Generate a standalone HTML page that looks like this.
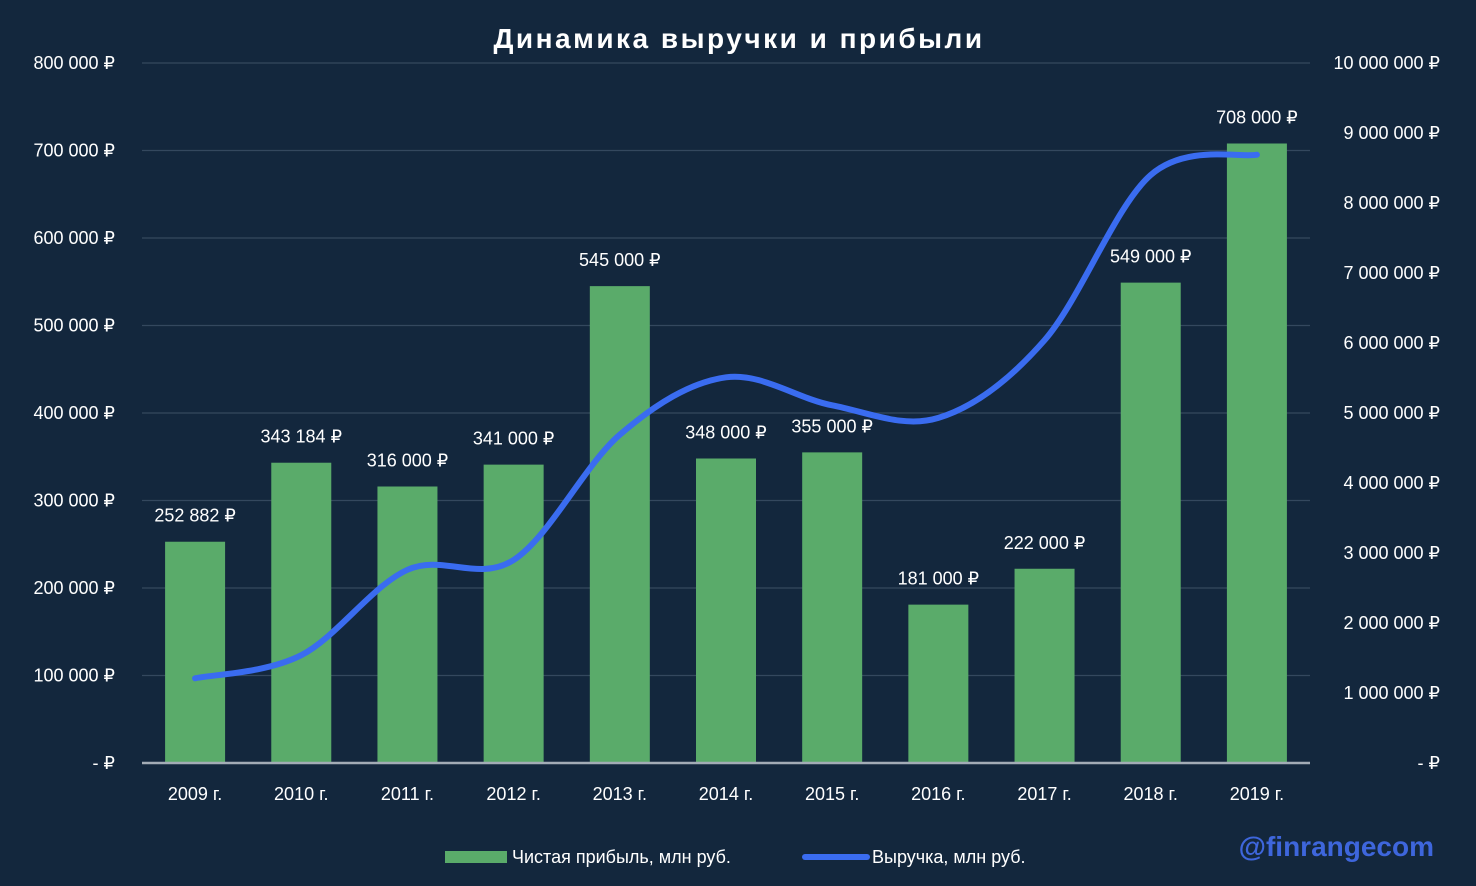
<!DOCTYPE html>
<html><head><meta charset="utf-8"><style>
body{margin:0;background:#13273d;}
svg{display:block;font-family:"Liberation Sans","DejaVu Sans",sans-serif;}
</style></head><body>
<svg id="c" width="1476" height="886" viewBox="0 0 1476 886">
<rect width="1476" height="886" fill="#13273d"/>
<text x="739" y="48" text-anchor="middle" fill="#fff" font-size="28" font-weight="bold" letter-spacing="2.5">Динамика выручки и прибыли</text>
<g id="grid"></g><g id="bars"></g><g id="line"></g><g id="labels"></g>
<g>
<rect x="445" y="851" width="62" height="12" fill="#5aab6a"/>
<text x="512" y="863" fill="#fff" font-size="18">Чистая прибыль, млн руб.</text>
<line x1="805" y1="857" x2="867" y2="857" stroke="#3a6cf0" stroke-width="6" stroke-linecap="round"/>
<text x="872" y="863" fill="#fff" font-size="18">Выручка, млн руб.</text>
</g>
<text x="1434" y="856" text-anchor="end" fill="#3e66dc" font-size="28" font-weight="bold">@finrangecom</text>
</svg>
<script>
const categories=["2009 г.","2010 г.","2011 г.","2012 г.","2013 г.","2014 г.","2015 г.","2016 г.","2017 г.","2018 г.","2019 г."];
const profit=[252882,343184,316000,341000,545000,348000,355000,181000,222000,549000,708000];
const profitLabels=["252 882 ₽","343 184 ₽","316 000 ₽","341 000 ₽","545 000 ₽","348 000 ₽","355 000 ₽","181 000 ₽","222 000 ₽","549 000 ₽","708 000 ₽"];
const revenue=[1210000,1540000,2760000,2900000,4690000,5510000,5110000,4930000,6040000,8400000,8690000];
const leftTicks=[0,100000,200000,300000,400000,500000,600000,700000,800000];
const leftTickLabels=["-   ₽","100 000 ₽","200 000 ₽","300 000 ₽","400 000 ₽","500 000 ₽","600 000 ₽","700 000 ₽","800 000 ₽"];
const rightTicks=[0,1e6,2e6,3e6,4e6,5e6,6e6,7e6,8e6,9e6,1e7];
const rightTickLabels=["-   ₽","1 000 000 ₽","2 000 000 ₽","3 000 000 ₽","4 000 000 ₽","5 000 000 ₽","6 000 000 ₽","7 000 000 ₽","8 000 000 ₽","9 000 000 ₽","10 000 000 ₽"];
const NS="http://www.w3.org/2000/svg";
const X0=142,X1=1310,Y0=763,Y1=63;
const step=(X1-X0)/categories.length;
const xc=i=>X0+step*(i+0.5);
const yl=v=>Y0-(v/800000)*(Y0-Y1);
const yr=v=>Y0-(v/1e7)*(Y0-Y1);
function mk(t,a,p){const e=document.createElementNS(NS,t);for(const k in a)e.setAttribute(k,a[k]);p.appendChild(e);return e;}
const grid=document.getElementById('grid'),bars=document.getElementById('bars'),line=document.getElementById('line'),labels=document.getElementById('labels');
leftTicks.forEach((v,i)=>{
 if(v>0){const g=mk('line',{x1:X0,x2:X1,y1:yl(v),y2:yl(v),stroke:'#34485e','stroke-width':1.3},grid);
 
 }
 const t=mk('text',{x:115,y:yl(v)+6,'text-anchor':'end',fill:'#fff','font-size':18},grid);t.textContent=leftTickLabels[i];
 
 
});
rightTicks.forEach((v,i)=>{
 const t=mk('text',{x:1440,y:yr(v)+6,'text-anchor':'end',fill:'#fff','font-size':18},grid);t.textContent=rightTickLabels[i];
 
 
});
const bw=60;
profit.forEach((v,i)=>{
 const r=mk('rect',{x:xc(i)-bw/2,y:yl(v),width:bw,height:Y0-yl(v),fill:'#5aab6a'},bars);
 
 
 const t=mk('text',{x:xc(i),y:yl(v)-20,'text-anchor':'middle',fill:'#fff','font-size':18},labels);t.textContent=profitLabels[i];
 
 
 const c=mk('text',{x:xc(i),y:800,'text-anchor':'middle',fill:'#fff','font-size':18},labels);c.textContent=categories[i];
 
 
});
const ax=mk('line',{x1:X0,x2:X1,y1:Y0,y2:Y0,stroke:'#a3acb6','stroke-width':2.5},bars);


const pts=revenue.map((v,i)=>[xc(i),yr(v)]);
let d='M'+pts[0][0]+','+pts[0][1];
for(let i=0;i<pts.length-1;i++){
 const p0=pts[i-1]||pts[i],p1=pts[i],p2=pts[i+1],p3=pts[i+2]||p2;const k=1/6;
 d+=` C${p1[0]+(p2[0]-p0[0])*k},${p1[1]+(p2[1]-p0[1])*k} ${p2[0]-(p3[0]-p1[0])*k},${p2[1]-(p3[1]-p1[1])*k} ${p2[0]},${p2[1]}`;
}
const pl=mk('path',{d:d,fill:'none',stroke:'#3a6cf0','stroke-width':6,'stroke-linecap':'round'},line);


</script>
</body></html>
